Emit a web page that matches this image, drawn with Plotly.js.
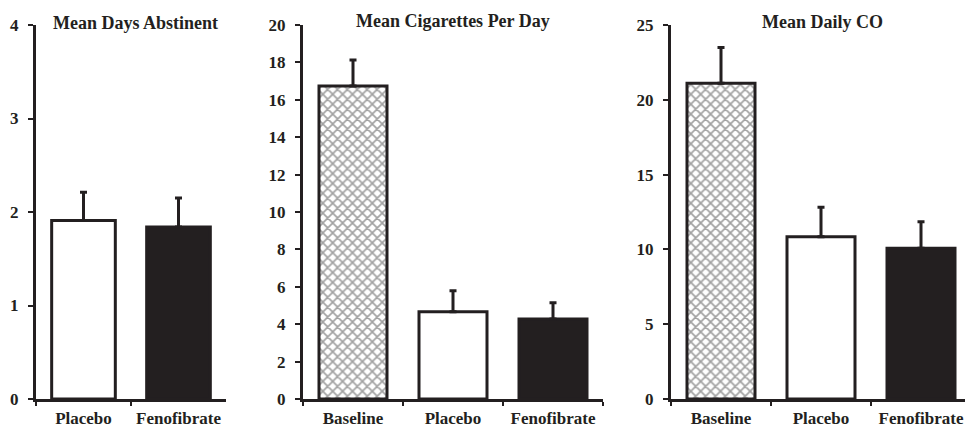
<!DOCTYPE html>
<html>
<head>
<meta charset="utf-8">
<script src="https://cdn.plot.ly/plotly-3.0.1.min.js"></script>
<style>html,body{margin:0;padding:0;background:#fff;}#chart{width:965px;height:428px;}</style>
</head>
<body>
<div id="chart"></div>
<script>
// ---- data ----
const absCats = ['Placebo', 'Fenofibrate'];
const absMeans = [1.91, 1.84];
const absErr = [0.30, 0.31];

const cigCats = ['Baseline', 'Placebo', 'Fenofibrate'];
const cigMeans = [16.74, 4.67, 4.28];
const cigErr = [1.39, 1.12, 0.87];

const coCats = ['Baseline', 'Placebo', 'Fenofibrate'];
const coMeans = [21.1, 10.85, 10.07];
const coErr = [2.4, 1.96, 1.78];

const titles = ['Mean Days Abstinent', 'Mean Cigarettes Per Day', 'Mean Daily CO'];

// ---- styling ----
const W = 965, H = 428;
const INK = '#231f20';
const FONT = '"Liberation Serif", "Times New Roman", Times, serif';
const px = v => v / W;
const py = v => (H - v) / H;

function fillFor(cat) {
  return cat === 'Fenofibrate' ? INK : 'white';
}
function patternFor(cat) {
  return cat === 'Baseline' ? 'x' : '';
}

function barTrace(cats, means, errs, xa, ya, width) {
  return {
    type: 'bar', x: cats, y: means, xaxis: xa, yaxis: ya,
    width: width,
    marker: {
      color: cats.map(fillFor),
      line: {color: INK, width: 3},
      pattern: {shape: cats.map(patternFor), fgcolor: '#6e6e6e', bgcolor: 'white', size: 7, solidity: 0.42, fillmode: 'overlay'}
    },
    error_y: {type: 'data', symmetric: false, array: errs, arrayminus: errs.map(() => 0),
              color: INK, thickness: 3, width: 3.5},
    hoverinfo: 'none', showlegend: false
  };
}

const traces = [
  barTrace(absCats, absMeans, absErr, 'x', 'y', 0.67),
  barTrace(cigCats, cigMeans, cigErr, 'x2', 'y2', 0.68),
  barTrace(coCats, coMeans, coErr, 'x3', 'y3', 0.68)
];

const tickFont = {family: FONT, size: 17, color: INK, weight: 700};
const yDom = [py(399), py(25)];

function xAxis(dom, range, anchor) {
  return {domain: dom, range: range, anchor: anchor, type: 'category',
    showline: true, linecolor: INK, linewidth: 3, showgrid: false, zeroline: false,
    ticks: 'outside', tickson: 'boundaries', ticklen: 4, tickwidth: 2, tickcolor: INK,
    ticklabelstandoff: 2,
    tickfont: tickFont, fixedrange: true};
}
function yAxis(range, dtick, anchor) {
  return {domain: yDom, range: range, anchor: anchor, dtick: dtick, tick0: 0,
    showline: true, linecolor: INK, linewidth: 3, showgrid: false, zeroline: false,
    ticks: 'outside', ticklen: 5, tickwidth: 2, tickcolor: INK,
    ticklabelstandoff: 6,
    tickfont: tickFont, fixedrange: true};
}

const layout = {
  width: W, height: H,
  font: {family: FONT, color: INK},
  margin: {l: 0, r: 0, t: 0, b: 0, autoexpand: false},
  paper_bgcolor: 'white', plot_bgcolor: 'white',
  xaxis: xAxis([px(36), px(226)], [-0.5, 1.5], 'y'),
  yaxis: yAxis([0, 4], 1, 'x'),
  xaxis2: xAxis([px(303), px(603)], [-0.5, 2.5], 'y2'),
  yaxis2: yAxis([0, 20], 2, 'x2'),
  xaxis3: xAxis([px(671), 1], [-0.5, 2.44], 'y3'),
  yaxis3: yAxis([0, 25], 5, 'x3'),
  annotations: [
    {text: titles[0], x: px(135), y: py(23)},
    {text: titles[1], x: px(453), y: py(21)},
    {text: titles[2], x: px(822), y: py(22)}
  ].map(a => Object.assign({xref: 'paper', yref: 'paper', xanchor: 'center', yanchor: 'middle',
      showarrow: false, font: {family: FONT, size: 18, color: INK, weight: 700}}, a))
};

Plotly.newPlot('chart', traces, layout, {displayModeBar: false, staticPlot: true});
</script>
</body>
</html>
